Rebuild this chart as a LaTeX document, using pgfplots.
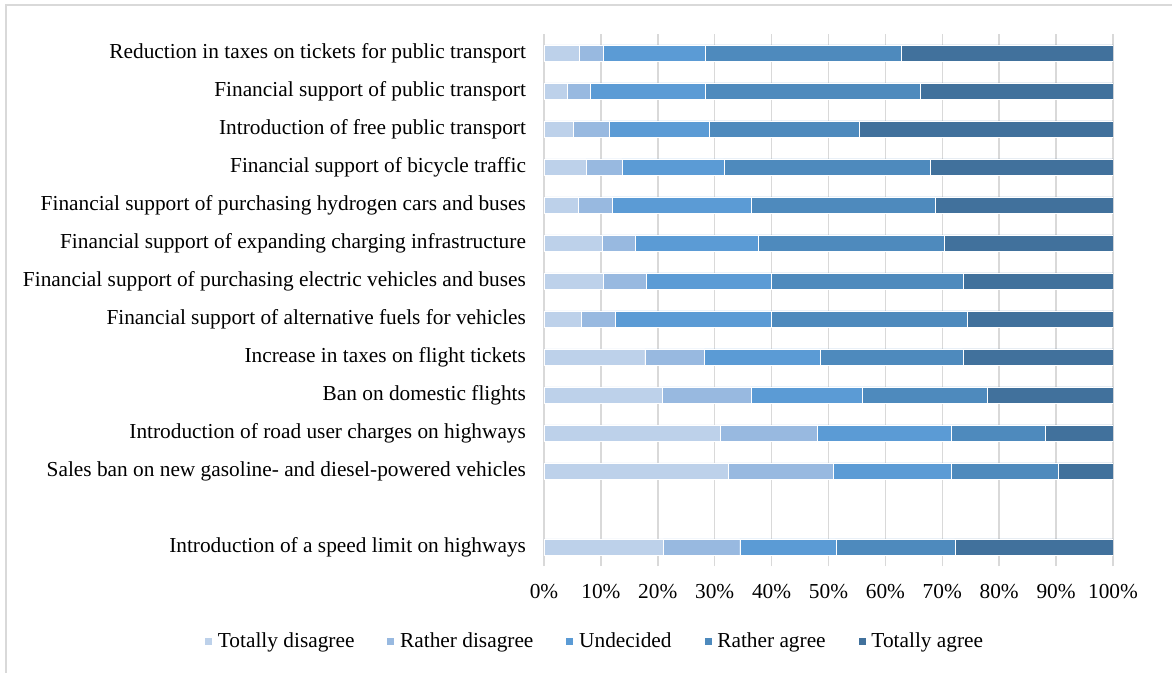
\documentclass[border=0pt]{standalone}
\usepackage{fontspec}
\setmainfont{Liberation Serif}
\usepackage{pgfplots}
\pgfplotsset{compat=1.18}
\definecolor{cTD}{HTML}{BDD1EA}
\definecolor{cRD}{HTML}{98B9E0}
\definecolor{cU}{HTML}{5B9BD5}
\definecolor{cRA}{HTML}{4E8ABD}
\definecolor{cTA}{HTML}{41719C}
\definecolor{gridc}{HTML}{D9D9D9}
\begin{document}
\fontsize{16}{18}\selectfont
\begin{tikzpicture}
\useasboundingbox (0pt,0pt) rectangle (879pt,-504.75pt);
\draw[gridc, line width=1.2pt] (4.5pt,-510pt) -- (4.5pt,-3.75pt) -- (885pt,-3.75pt);
\begin{axis}[
  at={(408pt,-424.5pt)}, anchor=south west,
  width=426.75pt, height=399pt, scale only axis,
  xbar stacked,
  bar width=0.43,
  xmin=0, xmax=100, ymin=-0.5, ymax=13.5,
  xtick={0,10,...,100},
  xticklabels={0\%,10\%,20\%,30\%,40\%,50\%,60\%,70\%,80\%,90\%,100\%},
  ytick={0,2,3,4,5,6,7,8,9,10,11,12,13},
  yticklabels={Introduction of a speed limit on highways,
    Sales ban on new gasoline- and diesel-powered vehicles,
    Introduction of road user charges on highways,
    Ban on domestic flights,
    Increase in taxes on flight tickets,
    Financial support of alternative fuels for vehicles,
    Financial support of purchasing electric vehicles and buses,
    Financial support of expanding charging infrastructure,
    Financial support of purchasing hydrogen cars and buses,
    Financial support of bicycle traffic,
    Introduction of free public transport,
    Financial support of public transport,
    Reduction in taxes on tickets for public transport},
  tick style={draw=none},
  axis line style={draw=none},
  xmajorgrids, ymajorgrids=false,
  major grid style={gridc, line width=1.2pt},
  xticklabel style={yshift=-8pt},
  yticklabel style={xshift=-8pt},
  ticklabel style={font=\fontsize{16}{18}\selectfont},
  legend columns=5,
  legend style={draw=none, fill=none, at={(0.0896,-0.143)}, anchor=center,
    font=\fontsize{16}{18}\selectfont,
    /tikz/every even column/.append style={column sep=22pt},
    /tikz/every odd column/.append style={column sep=2pt}},
  legend image code/.code={\fill[#1] (0pt,-2.5pt) rectangle (6pt,3.5pt);},
  every axis plot/.append style={draw=white, line width=0.3pt},
]
\addplot[fill=cTD] coordinates {(21.0,0) (32.4,2) (31.0,3) (20.8,4) (17.7,5) (6.6,6) (10.4,7) (10.2,8) (6.0,9) (7.4,10) (5.2,11) (4.0,12) (6.2,13)};
\addplot[fill=cRD] coordinates {(13.4,0) (18.5,2) (17.1,3) (15.6,4) (10.5,5) (6.0,6) (7.6,7) (5.9,8) (6.0,9) (6.3,10) (6.2,11) (4.2,12) (4.2,13)};
\addplot[fill=cU] coordinates {(16.9,0) (20.6,2) (23.4,3) (19.6,4) (20.3,5) (27.3,6) (21.9,7) (21.6,8) (24.4,9) (17.9,10) (17.7,11) (20.1,12) (17.9,13)};
\addplot[fill=cRA] coordinates {(20.9,0) (18.9,2) (16.6,3) (21.9,4) (25.1,5) (34.4,6) (33.8,7) (32.7,8) (32.3,9) (36.2,10) (26.3,11) (37.9,12) (34.4,13)};
\addplot[fill=cTA] coordinates {(27.8,0) (9.6,2) (11.9,3) (22.1,4) (26.4,5) (25.7,6) (26.3,7) (29.6,8) (31.3,9) (32.2,10) (44.6,11) (33.8,12) (37.3,13)};
\legend{Totally disagree, Rather disagree, Undecided, Rather agree, Totally agree}
\end{axis}
\end{tikzpicture}
\end{document}
